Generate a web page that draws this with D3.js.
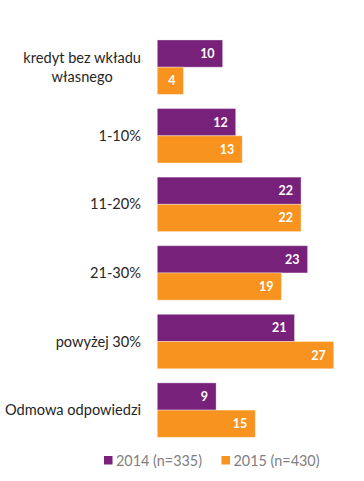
<!DOCTYPE html>
<html>
<head>
<meta charset="utf-8">
<script src="https://cdn.jsdelivr.net/npm/d3@7"></script>
<style>
  body { margin: 0; background: #fff; }
  svg text { font-family: Lato, "Open Sans", sans-serif; }
</style>
</head>
<body>
<div id="chart"></div>
<script>
var categories = ["kredyt bez wkładu|własnego", "1-10%", "11-20%", "21-30%", "powyżej 30%", "Odmowa odpowiedzi"];
var seriesNames = ["2014 (n=335)", "2015 (n=430)"];
var values2014 = [10, 12, 22, 23, 21, 9];
var values2015 = [4, 13, 22, 19, 27, 15];

var width = 364,
    height = 481;

var colors = ["#77217b", "#f7931e"];
var labelRight = 141;

var xScale = d3.scaleLinear()
    .domain([0, 27])
    .range([157.3, 333.7]);

var yScale = d3.scaleBand()
    .domain(categories)
    .range([32.9, 444.4])
    .paddingInner(0.206)
    .paddingOuter(0.103);

var subScale = d3.scaleBand()
    .domain([0, 1])
    .range([0, yScale.bandwidth()]);

var data = categories.map(function(c, i) {
    return { cat: c, vals: [values2014[i], values2015[i]] };
});

var svg = d3.select("#chart")
    .append("svg")
    .attr("width", width)
    .attr("height", height);

var groups = svg.selectAll(".grp")
    .data(data)
    .enter()
    .append("g")
    .attr("class", "grp")
    .attr("transform", function(d) { return "translate(0," + yScale(d.cat) + ")"; });

var bars = groups.selectAll(".bar")
    .data(function(d) { return d.vals.map(function(v, j) { return { v: v, j: j }; }); })
    .enter()
    .append("g")
    .attr("class", "bar");

bars.append("rect")
    .attr("x", xScale(0))
    .attr("y", function(d) { return subScale(d.j); })
    .attr("width", function(d) { return xScale(d.v) - xScale(0); })
    .attr("height", subScale.bandwidth())
    .attr("fill", function(d) { return colors[d.j]; })
    .attr("stroke", "#ffffff")
    .attr("stroke-opacity", 0.35)
    .attr("stroke-width", 1);

bars.append("text")
    .attr("x", function(d) { return xScale(d.v) - 8; })
    .attr("y", function(d) { return subScale(d.j) + subScale.bandwidth() / 2; })
    .attr("dy", "0.36em")
    .attr("text-anchor", "end")
    .attr("fill", "#fff")
    .attr("font-weight", "bold")
    .attr("font-size", "12.5px")
    .text(function(d) { return d.v; });

// category labels (multi-line ones are centred as a block, right edge at labelRight)
groups.append("text")
    .attr("fill", "#262626")
    .attr("font-size", "14.6px")
    .each(function(d) {
        var lines = d.cat.split("|");
        var t = d3.select(this);
        var mid = yScale.bandwidth() / 2;
        var spans = lines.map(function(l, k) {
            return t.append("tspan")
                .attr("y", mid + (k - (lines.length - 1) / 2) * 18.5)
                .attr("dy", "0.35em")
                .text(l);
        });
        var maxW = d3.max(spans, function(s) { return s.node().getComputedTextLength(); });
        t.attr("text-anchor", "middle");
        spans.forEach(function(s) { s.attr("x", labelRight - maxW / 2); });
    });

// legend
var legendX = [104, 221.5];
var legend = svg.selectAll(".legend")
    .data(seriesNames)
    .enter()
    .append("g")
    .attr("class", "legend")
    .attr("transform", function(d, i) { return "translate(" + legendX[i] + ",456)"; });

legend.append("rect")
    .attr("width", 8.5)
    .attr("height", 8.5)
    .attr("fill", function(d, i) { return colors[i]; });

legend.append("text")
    .attr("x", 12)
    .attr("y", 4.5)
    .attr("dy", "0.36em")
    .attr("fill", "#808080")
    .attr("font-size", "14.4px")
    .text(function(d) { return d; });
</script>
</body>
</html>
